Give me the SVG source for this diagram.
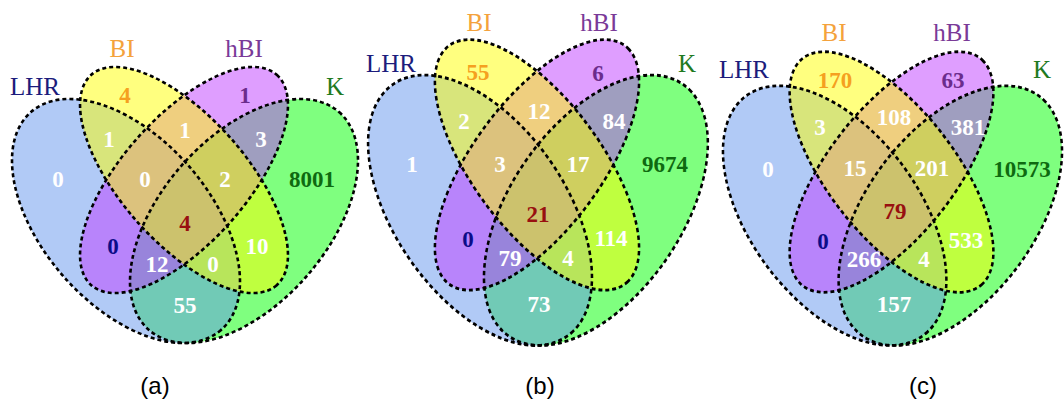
<svg xmlns="http://www.w3.org/2000/svg" xmlns:xlink="http://www.w3.org/1999/xlink" width="1064" height="405" viewBox="0 0 1064 405">
  <style>
    .fill { fill-opacity: 0.5; stroke: none; }
    .k { fill: #00ff00; }
    .l { fill: #6495ed; }
    .h { fill: #bf3eff; }
    .b { fill: #ffff00; }
    .edge { fill: none; stroke: #000; stroke-width: 2.6; stroke-dasharray: 4 3; vector-effect: non-scaling-stroke; }
    .lab { font-family: "Liberation Serif", "Times New Roman", serif; font-size: 25px; text-anchor: middle; }
    .num { font-family: "Liberation Serif", "Times New Roman", serif; font-size: 23px; font-weight: bold; text-anchor: middle; fill: #fff; }
    .cap { font-family: "Liberation Sans", Arial, sans-serif; font-size: 24px; text-anchor: middle; fill: #000; }
    .c-lhr { fill: #1c1c7c; }
    .c-bi { fill: #f4a23c; }
    .c-hbi { fill: #7a3a98; }
    .c-k { fill: #1f7a1f; }
    .c-bio { fill: #f5a020; }
    .c-hbio { fill: #6b2c8c; }
    .c-ko { fill: #0e6a10; }
    .c-lh { fill: #0c0c88; }
    .c-all { fill: #981010; }
  </style>
  <defs>
    <!-- the four sets, in the coordinates of the first panel -->
    <ellipse id="eK" cx="244" cy="221" rx="144.6" ry="83.5" transform="rotate(-48.9 244 221)"/>
    <ellipse id="eL" cx="126" cy="221" rx="144.6" ry="83.5" transform="rotate(48.9 126 221)"/>
    <ellipse id="eH" cx="184" cy="180" rx="140.2" ry="62.7" transform="rotate(-48.6 184 180)"/>
    <ellipse id="eB" cx="184" cy="180" rx="140.2" ry="62.7" transform="rotate(48.6 184 180)"/>
  </defs>

  <rect width="1064" height="405" fill="#fff"/>

  <!-- panel (a) -->
  <g id="panel-a">
    <g id="a-sets">
      <!-- painted bottom to top: K, LHR, hBI, BI -->
      <use id="a-K" xlink:href="#eK" class="fill k"/>
      <use id="a-LHR" xlink:href="#eL" class="fill l"/>
      <use id="a-hBI" xlink:href="#eH" class="fill h"/>
      <use id="a-BI" xlink:href="#eB" class="fill b"/>
      <use xlink:href="#eK" class="edge"/>
      <use xlink:href="#eL" class="edge"/>
      <use xlink:href="#eH" class="edge"/>
      <use xlink:href="#eB" class="edge"/>
    </g>
    <g id="a-labels">
      <text class="lab c-lhr" x="35" y="95">LHR</text>
      <text class="lab c-bi" x="122" y="57">BI</text>
      <text class="lab c-hbi" x="244" y="57">hBI</text>
      <text class="lab c-k" x="335" y="95">K</text>
    </g>
    <g id="a-counts">
      <text class="num c-bio" x="125" y="103">4</text>
      <text class="num c-hbio" x="245" y="103">1</text>
      <text class="num" x="109" y="147">1</text>
      <text class="num" x="185" y="138">1</text>
      <text class="num" x="261" y="147">3</text>
      <text class="num" x="58" y="187">0</text>
      <text class="num" x="145" y="187">0</text>
      <text class="num" x="225" y="187">2</text>
      <text class="num c-ko" x="312" y="187">8001</text>
      <text class="num c-all" x="185" y="231">4</text>
      <text class="num c-lh" x="113" y="254">0</text>
      <text class="num" x="257" y="254">10</text>
      <text class="num" x="157" y="272">12</text>
      <text class="num" x="213" y="272">0</text>
      <text class="num" x="185" y="313">55</text>
    </g>
    <text class="cap" x="155" y="394">(a)</text>
  </g>

  <!-- panel (b) -->
  <g id="panel-b">
    <g id="b-sets" transform="matrix(0.982 0 0 1.108 356.3 -34.6)">
      <use id="b-K" xlink:href="#eK" class="fill k"/>
      <use id="b-LHR" xlink:href="#eL" class="fill l"/>
      <use id="b-hBI" xlink:href="#eH" class="fill h"/>
      <use id="b-BI" xlink:href="#eB" class="fill b"/>
      <use xlink:href="#eK" class="edge"/>
      <use xlink:href="#eL" class="edge"/>
      <use xlink:href="#eH" class="edge"/>
      <use xlink:href="#eB" class="edge"/>
    </g>
    <g id="b-labels">
      <text class="lab c-lhr" x="391" y="72">LHR</text>
      <text class="lab c-bi" x="479" y="31">BI</text>
      <text class="lab c-hbi" x="599" y="31">hBI</text>
      <text class="lab c-k" x="687" y="72">K</text>
    </g>
    <g id="b-counts">
      <text class="num c-bio" x="478" y="80">55</text>
      <text class="num c-hbio" x="598" y="81">6</text>
      <text class="num" x="464" y="129">2</text>
      <text class="num" x="539" y="119">12</text>
      <text class="num" x="614" y="129">84</text>
      <text class="num" x="412" y="172">1</text>
      <text class="num" x="500" y="172">3</text>
      <text class="num" x="578" y="172">17</text>
      <text class="num c-ko" x="665" y="172">9674</text>
      <text class="num c-all" x="538" y="222">21</text>
      <text class="num c-lh" x="468" y="247">0</text>
      <text class="num" x="611" y="246">114</text>
      <text class="num" x="510" y="266">79</text>
      <text class="num" x="568" y="266">4</text>
      <text class="num" x="539" y="312">73</text>
    </g>
    <text class="cap" x="540" y="394">(b)</text>
  </g>

  <!-- panel (c) -->
  <g id="panel-c">
    <g id="c-sets" transform="matrix(0.98 0 0 1.064 711.2 -19.5)">
      <use id="c-K" xlink:href="#eK" class="fill k"/>
      <use id="c-LHR" xlink:href="#eL" class="fill l"/>
      <use id="c-hBI" xlink:href="#eH" class="fill h"/>
      <use id="c-BI" xlink:href="#eB" class="fill b"/>
      <use xlink:href="#eK" class="edge"/>
      <use xlink:href="#eL" class="edge"/>
      <use xlink:href="#eH" class="edge"/>
      <use xlink:href="#eB" class="edge"/>
    </g>
    <g id="c-labels">
      <text class="lab c-lhr" x="744" y="78">LHR</text>
      <text class="lab c-bi" x="834" y="41">BI</text>
      <text class="lab c-hbi" x="952" y="41">hBI</text>
      <text class="lab c-k" x="1042" y="78">K</text>
    </g>
    <g id="c-counts">
      <text class="num c-bio" x="835" y="88">170</text>
      <text class="num c-hbio" x="953" y="88">63</text>
      <text class="num" x="820" y="135">3</text>
      <text class="num" x="894" y="125">108</text>
      <text class="num" x="968" y="135">381</text>
      <text class="num" x="768" y="177">0</text>
      <text class="num" x="855" y="176">15</text>
      <text class="num" x="932" y="176">201</text>
      <text class="num c-ko" x="1022" y="177">10573</text>
      <text class="num c-all" x="895" y="219">79</text>
      <text class="num c-lh" x="823" y="249">0</text>
      <text class="num" x="966" y="248">533</text>
      <text class="num" x="864" y="267">266</text>
      <text class="num" x="924" y="267">4</text>
      <text class="num" x="894" y="312">157</text>
    </g>
    <text class="cap" x="923" y="394">(c)</text>
  </g>
</svg>
